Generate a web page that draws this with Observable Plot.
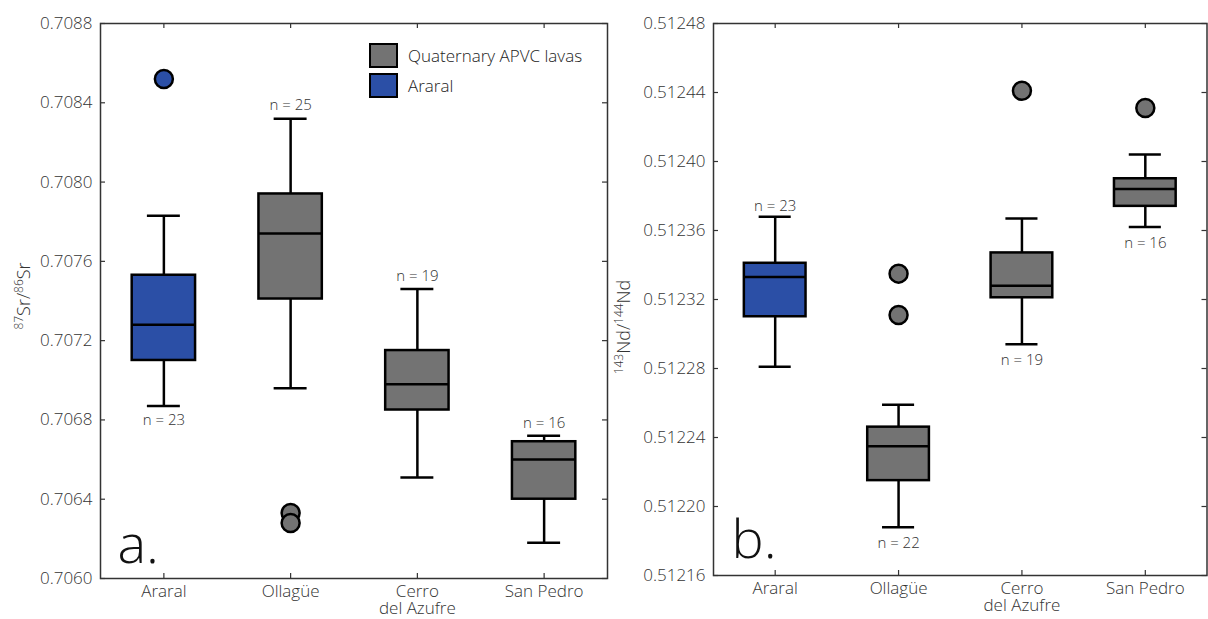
<!DOCTYPE html>
<html>
<head>
<meta charset="utf-8">
<script src="https://cdn.jsdelivr.net/npm/d3@7"></script>
<script src="https://cdn.jsdelivr.net/npm/@observablehq/plot@0.6"></script>
<style>
  html, body { margin: 0; padding: 0; background: #fff; }
  #figure { position: relative; width: 1208px; height: 619px; overflow: hidden; font-family: "Open Sans", sans-serif; }
  .panel { position: absolute; top: 0; }
  .legend { position: absolute; left: 369px; top: 43px; font-size: 17px; font-weight: 300; color: #222; }
  .legend .row { display: flex; align-items: center; height: 25px; margin-bottom: 5px; }
  .legend .swatch { box-sizing: border-box; width: 29px; height: 25px; border: 2px solid #000; margin-right: 10px; }
</style>
</head>
<body>
<div id="figure"></div>
<script>
// Volcanic centres, in plotting order (x position = index)
const sites = ["Araral", "Ollagüe", "Cerro\ndel Azufre", "San Pedro"];
const groupNames = ["Quaternary APVC lavas", "Araral"];
const groupColors = ["#737373", "#2b4fa6"];
// group of each site: 1 = Araral, 0 = Quaternary APVC lavas
const siteGroup = [1, 0, 0, 0];

// 87Sr/86Sr box statistics
const srTicks = [0.7060, 0.7064, 0.7068, 0.7072, 0.7076, 0.7080, 0.7084, 0.7088];
const srLow = [0.70687, 0.70696, 0.70651, 0.70618];
const srQ1 = [0.70710, 0.70741, 0.70685, 0.70640];
const srMedian = [0.70728, 0.70774, 0.70698, 0.70660];
const srQ3 = [0.70753, 0.70794, 0.70715, 0.70669];
const srHigh = [0.70783, 0.70832, 0.70746, 0.70672];
const srCount = [23, 25, 19, 16];
const srCountBelow = [true, false, false, false];
const srOutlierSite = [0, 1, 1];
const srOutlierValue = [0.70852, 0.70633, 0.70628];

// 143Nd/144Nd box statistics
const ndTicks = [0.51216, 0.51220, 0.51224, 0.51228, 0.51232, 0.51236, 0.51240, 0.51244, 0.51248];
const ndLow = [0.512281, 0.512188, 0.512294, 0.512362];
const ndQ1 = [0.512310, 0.512215, 0.512321, 0.512374];
const ndMedian = [0.512333, 0.512235, 0.512328, 0.512384];
const ndQ3 = [0.512341, 0.512246, 0.512347, 0.512390];
const ndHigh = [0.512368, 0.512259, 0.512367, 0.512404];
const ndCount = [23, 22, 19, 16];
const ndCountBelow = [false, true, true, true];
const ndOutlierSite = [1, 1, 2, 3];
const ndOutlierValue = [0.512335, 0.512311, 0.512441, 0.512431];

const boxHalf = 0.25;   // half box width, in band units
const capHalf = 0.13;   // half whisker-cap width
const ink = "#222";

function panel(cfg) {
  const {width, height, ml, mr, mt, mb, ticks, fmt, low, q1, med, q3, high, count, below,
         outSite, outValue, letter, letterDx, letterDy, belowDy, aboveDy} = cfg;
  const innerW = width - ml - mr;
  const innerH = height - mt - mb;
  const boxes = sites.map((s, i) => ({i, lo: low[i], q1: q1[i], med: med[i], q3: q3[i], hi: high[i],
    n: count[i], below: below[i], group: siteGroup[i]}));
  const outliers = outSite.map((s, k) => ({i: s, v: outValue[k], group: siteGroup[s]}));
  const fill = d => groupColors[d.group];
  const idx = [0, 1, 2, 3];

  const svg = Plot.plot({
    width, height,
    marginLeft: ml, marginRight: mr, marginTop: mt, marginBottom: mb,
    style: {fontFamily: "'Open Sans', sans-serif", fontSize: "17px", fontWeight: 300, color: ink, background: "transparent", overflow: "visible"},
    x: {domain: [-0.5, 3.5]},
    y: {domain: [ticks[0], ticks[ticks.length - 1]]},
    marks: [
      Plot.frame({stroke: "#333", strokeWidth: 1.5}),
      // inward ticks on all four sides
      Plot.tickY(ticks, {y: d => d, insetRight: innerW - 5, stroke: "#333", strokeWidth: 1.2}),
      Plot.tickY(ticks, {y: d => d, insetLeft: innerW - 5, stroke: "#333", strokeWidth: 1.2}),
      Plot.tickX(idx, {x: d => d, insetBottom: innerH - 5, stroke: "#333", strokeWidth: 1.2}),
      Plot.tickX(idx, {x: d => d, insetTop: innerH - 5, stroke: "#333", strokeWidth: 1.2}),
      Plot.axisY({ticks, tickSize: 0, tickPadding: 8, tickFormat: fmt, label: null, fill: "#333"}),
      Plot.axisX({ticks: idx, tickSize: 0, tickPadding: 6, tickFormat: i => sites[i], label: null, fill: "#333", lineHeight: 1.02}),
      // whiskers
      Plot.ruleX(boxes, {x: "i", y1: "q3", y2: "hi", stroke: "#000", strokeWidth: 2.5}),
      Plot.ruleX(boxes, {x: "i", y1: "q1", y2: "lo", stroke: "#000", strokeWidth: 2.5}),
      Plot.ruleY(boxes, {y: "hi", x1: d => d.i - capHalf, x2: d => d.i + capHalf, stroke: "#000", strokeWidth: 2.5}),
      Plot.ruleY(boxes, {y: "lo", x1: d => d.i - capHalf, x2: d => d.i + capHalf, stroke: "#000", strokeWidth: 2.5}),
      // interquartile boxes and medians
      Plot.rect(boxes, {x1: d => d.i - boxHalf, x2: d => d.i + boxHalf, y1: "q1", y2: "q3", fill, stroke: "#000", strokeWidth: 2.5}),
      Plot.ruleY(boxes, {y: "med", x1: d => d.i - boxHalf, x2: d => d.i + boxHalf, stroke: "#000", strokeWidth: 2.5}),
      // outliers
      Plot.dot(outliers, {x: "i", y: "v", r: 9, fill, stroke: "#000", strokeWidth: 2.5}),
      // sample counts
      Plot.text(boxes.filter(d => !d.below), {x: "i", y: "hi", text: d => `n = ${d.n}`, dy: aboveDy, fontSize: 15, fill: "#333"}),
      Plot.text(boxes.filter(d => d.below), {x: "i", y: "lo", text: d => `n = ${d.n}`, dy: belowDy, fontSize: 15, fill: "#333"}),
      // panel letter
      Plot.text([letter], {text: d => d, frameAnchor: "bottom-left", textAnchor: "start", lineAnchor: "bottom", dx: letterDx, dy: letterDy, fontSize: 54, fill: "#111"})
    ]
  });
  return svg;
}

// rotated y-axis title with superscript mass numbers
function yTitle(svg, x, y, parts) {
  const t = d3.select(svg).append("text")
    .attr("transform", `translate(${x},${y}) rotate(-90)`)
    .attr("text-anchor", "middle")
    .attr("fill", "#333")
    .style("font-family", "'Open Sans', sans-serif")
    .style("font-weight", 300)
    .style("font-size", "18px");
  for (const [sup, base] of parts) {
    t.append("tspan").attr("dy", -7).style("font-size", "12px").text(sup);
    t.append("tspan").attr("dy", 7).text(base);
  }
}

const fig = document.getElementById("figure");

const left = panel({
  width: 610, height: 619, ml: 100, mr: 3, mt: 23, mb: 41,
  ticks: srTicks, fmt: d3.format(".4f"),
  low: srLow, q1: srQ1, med: srMedian, q3: srQ3, high: srHigh,
  count: srCount, below: srCountBelow, outSite: srOutlierSite, outValue: srOutlierValue,
  letter: "a.", letterDx: 17, letterDy: -16, belowDy: 14, aboveDy: -13
});
yTitle(left, 30, 296, [["87", "Sr/"], ["86", "Sr"]]);
left.classList.add("panel");
left.style.left = "0px";
fig.appendChild(left);

const right = panel({
  width: 598, height: 619, ml: 103, mr: 1.5, mt: 23, mb: 44,
  ticks: ndTicks, fmt: d3.format(".5f"),
  low: ndLow, q1: ndQ1, med: ndMedian, q3: ndQ3, high: ndHigh,
  count: ndCount, below: ndCountBelow, outSite: ndOutlierSite, outValue: ndOutlierValue,
  letter: "b.", letterDx: 18, letterDy: -18, belowDy: 16, aboveDy: -11
});
yTitle(right, 20, 327, [["143", "Nd/"], ["144", "Nd"]]);
right.classList.add("panel");
right.style.left = "610px";
fig.appendChild(right);

// legend for the two groups
const legend = document.createElement("div");
legend.className = "legend";
for (const [k, name] of groupNames.entries()) {
  const row = document.createElement("div");
  row.className = "row";
  const sw = document.createElement("div");
  sw.className = "swatch";
  sw.style.background = groupColors[k];
  const label = document.createElement("span");
  label.textContent = name;
  row.appendChild(sw);
  row.appendChild(label);
  legend.appendChild(row);
}
fig.appendChild(legend);
</script>
</body>
</html>
